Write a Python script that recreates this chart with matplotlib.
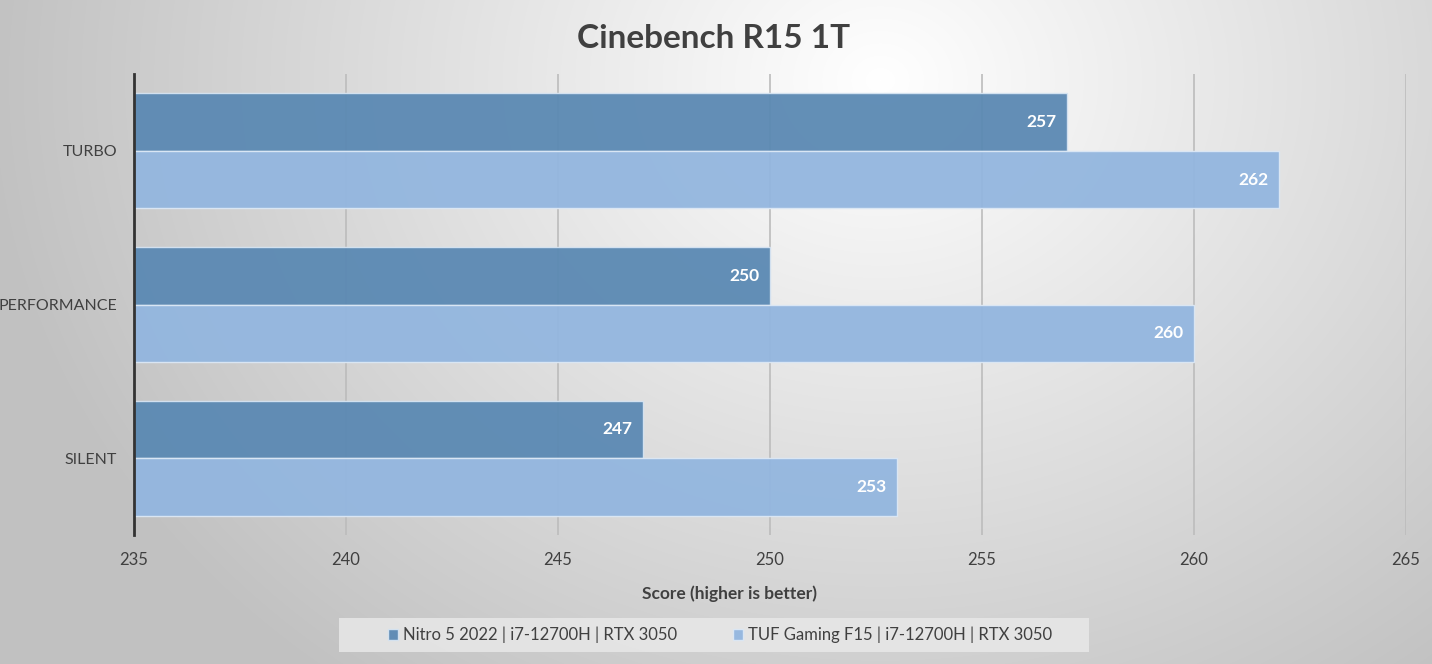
import numpy as np
import matplotlib.pyplot as plt
from matplotlib.patches import Rectangle

plt.rcParams['font.family'] = ['Lato', 'DejaVu Sans']

modes = ['TURBO', 'PERFORMANCE', 'SILENT']
nitro = [257, 250, 247]
tuf = [262, 260, 253]
series_names = ['Nitro 5 2022 | i7-12700H | RTX 3050',
                'TUF Gaming F15 | i7-12700H | RTX 3050']
ticks = [235, 240, 245, 250, 255, 260, 265]

c_dark = '#5b89b3'
c_light = '#93b6df'
txt = '#404040'

fig = plt.figure(figsize=(14.32, 6.64), dpi=100)

# radial gray gradient background
bg = fig.add_axes([0, 0, 1, 1], zorder=-10)
yy, xx = np.mgrid[0:664, 0:1432]
r = np.sqrt(((xx - 880) / 1000.0) ** 2 + ((yy - 80) / 850.0) ** 2)
g = np.clip(1.0 - 0.27 * r, 0.76, 1.0)
bg.imshow(np.dstack([g, g, g]), aspect='auto', extent=[0, 1, 0, 1])
bg.set_xlim(0, 1)
bg.set_ylim(0, 1)
bg.axis('off')

# legend backdrop
bg.add_patch(Rectangle((339 / 1432, 1 - 652 / 664), 750 / 1432, 34 / 664,
                       facecolor='#e8e8e8', edgecolor='none', alpha=0.85))

ax = fig.add_axes([134 / 1432, 1 - 535 / 664, (1406 - 134) / 1432, (535 - 74) / 664])
ax.set_facecolor('none')

y = np.arange(len(modes))
h = 0.375
ax.barh(y - h / 2, [v - ticks[0] for v in nitro], height=h, left=ticks[0],
        color=c_dark, edgecolor='#d6e4f2', linewidth=1, alpha=0.95, zorder=3,
        label=series_names[0])
ax.barh(y + h / 2, [v - ticks[0] for v in tuf], height=h, left=ticks[0],
        color=c_light, edgecolor='#dce8f5', linewidth=1, alpha=0.95, zorder=3,
        label=series_names[1])

for i in range(len(modes)):
    ax.text(nitro[i] - 0.25, y[i] - h / 2, str(nitro[i]), ha='right', va='center',
            color='white', fontsize=12.5, fontweight='bold', zorder=5)
    ax.text(tuf[i] - 0.25, y[i] + h / 2, str(tuf[i]), ha='right', va='center',
            color='white', fontsize=12.5, fontweight='bold', zorder=5)

ax.set_xlim(ticks[0], ticks[-1])
ax.set_ylim(2.5, -0.5)
ax.set_xticks(ticks)
ax.set_yticks(y)
ax.set_yticklabels(modes)
ax.xaxis.grid(True, color='#bcbcbc', linewidth=1.2, zorder=1)
ax.set_axisbelow(True)
ax.tick_params(axis='x', length=0, labelsize=12, labelcolor=txt, pad=12)
ax.tick_params(axis='y', length=0, labelsize=11.5, labelcolor=txt, pad=12)
for s in ['top', 'right', 'bottom']:
    ax.spines[s].set_visible(False)
ax.spines['left'].set_color('#333333')
ax.spines['left'].set_linewidth(2)
ax.spines['left'].set_zorder(6)

fig.text(730 / 1432, 1 - 594 / 664, 'Score (higher is better)', ha='center',
         va='center', fontsize=12.5, fontweight='bold', color=txt)
fig.text(714 / 1432, 1 - 38 / 664, 'Cinebench R15 1T', ha='center', va='center',
         fontsize=24, fontweight='bold', color=txt)

leg = fig.legend(loc='center', bbox_to_anchor=(720 / 1432, 1 - 635 / 664), ncol=2,
                 frameon=False, fontsize=12, handlelength=0.6, handleheight=0.6,
                 columnspacing=3.3, handletextpad=0.3, labelcolor=txt)

fig.savefig('out.png', dpi=100)
